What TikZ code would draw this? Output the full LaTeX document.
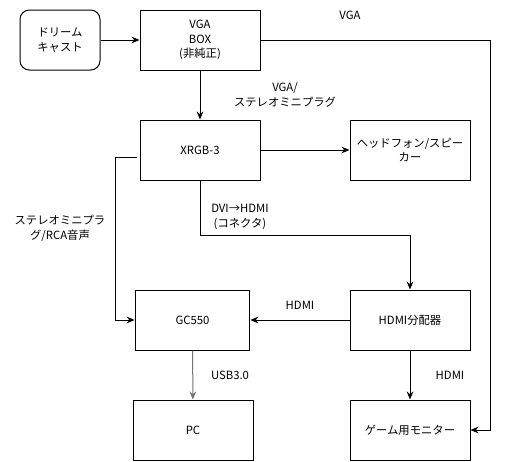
\documentclass[tikz,border=0pt]{standalone}
\usepackage{fontspec}
\setmainfont{Noto Sans CJK JP}
\usetikzlibrary{arrows.meta}

\begin{document}
\begin{tikzpicture}[x=0.75pt, y=-0.75pt, line width=0.75pt,
    font=\fontsize{8.5}{11}\selectfont,
    box/.style={draw, minimum width=90pt, minimum height=45pt, align=center, inner sep=2pt},
    link/.style={-{Stealth[length=6pt, width=5pt]}},
    lbl/.style={align=center, inner sep=0pt}]
      \useasboundingbox (0,0) rectangle (511,461);

      % devices
      \node[box, rounded corners=7pt, minimum width=60pt] (cast) at (60,40) {ドリーム\\キャスト};
      \node[box] (vgabox) at (200,40) {VGA\\BOX\\(非純正)};
      \node[box] (xrgb) at (200,150) {XRGB-3};
      \node[box] (phones) at (410,150) {ヘッドフォン/スピー\\カー};
      \node[box, minimum width=86pt] (gc) at (192.5,320) {GC550};
      \node[box] (split) at (410,320) {HDMI分配器};
      \node[box] (pc) at (193,430) {PC};
      \node[box] (monitor) at (410,430) {ゲーム用モニター};

      % cables
      \draw[link] (cast) -- (vgabox);
      \draw[link] (vgabox) -- (xrgb);
      \draw[link] (vgabox.east) -| (490,430) -- (monitor.east);
      \draw[link] (xrgb) -- (phones);
      \draw[link] ([shift={(-3,7)}]xrgb.west) -- (115,157) |- (gc.west);
      \draw[link] (xrgb.south) |- (410,235) -- (split.north);
      \draw[link] (split) -- (gc);
      \draw[link, draw=black!55] (gc) -- (pc);
      \draw[link] (split) -- (monitor);

      % cable labels
      \node[lbl] (lvga) at (350,15) {VGA};
      \node[lbl] (lmini) at (285,95) {VGA/\\ステレオミニプラグ};
      \node[lbl] (laudio) at (60,228) {ステレオミニプラ\\グ/RCA音声};
      \node[lbl] (ldvi) at (240,217) {DVI→HDMI\\(コネクタ)};
      \node[lbl] (lhdmi) at (300,305) {HDMI};
      \node[lbl] (lusb) at (230,375) {USB3.0};
      \node[lbl] (lhdmib) at (450,375) {HDMI};
\end{tikzpicture}
\end{document}
